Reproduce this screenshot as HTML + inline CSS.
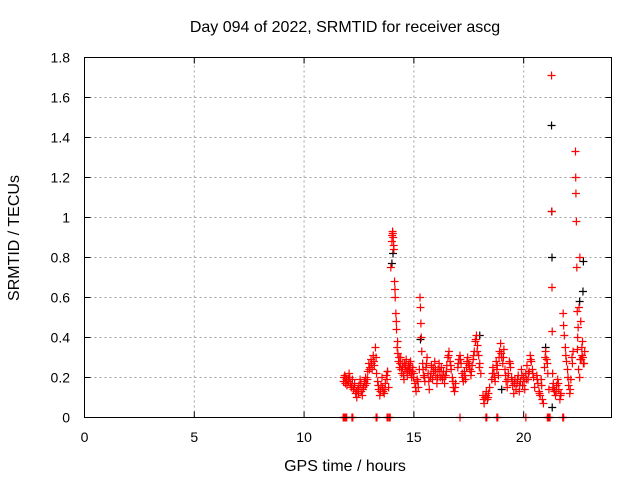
<!DOCTYPE html>
<html><head><meta charset="utf-8"><style>
body{margin:0;background:#fff}
svg{display:block;font-family:"Liberation Sans",sans-serif}
</style></head><body>
<svg id="chart" width="640" height="480" viewBox="0 0 640 480" xmlns="http://www.w3.org/2000/svg">
<text x="345" y="32" font-size="16" text-anchor="middle">Day 094 of 2022, SRMTID for receiver ascg</text>
<text x="345" y="471" font-size="16" text-anchor="middle">GPS time / hours</text>
<text transform="translate(19,238) rotate(-90)" font-size="16" text-anchor="middle">SRMTID / TECUs</text>
<g id="grid"></g>
<g id="ticks"></g>
<g id="black-series"></g>
<g id="red-series"></g>
<rect x="84.5" y="57.5" width="527" height="360" fill="none" stroke="#000" stroke-width="1"/>
</svg>
<script>
const xTicks=[0,5,10,15,20];
const yTicks=[0,0.2,0.4,0.6,0.8,1,1.2,1.4,1.6,1.8];
const yTickLabels=["0","0.2","0.4","0.6","0.8","1","1.2","1.4","1.6","1.8"];
const redT=[11.80,11.85,11.90,11.95,12.00,12.05,12.10,12.15,12.20,12.25,12.30,12.35,12.40,12.45,12.50,12.55,12.60,12.65,12.70,12.75,12.80,12.85,12.90,12.95,13.00,13.05,13.10,13.15,13.20,13.25,13.30,13.35,13.40,13.45,13.50,13.55,13.60,13.65,13.70,13.75,13.80,13.85,13.95,14.00,14.03,14.06,14.09,14.12,14.15,14.18,14.21,14.24,14.27,14.30,14.35,14.40,14.45,14.50,14.55,14.60,14.65,14.70,14.75,14.80,14.85,14.90,14.95,15.00,15.05,15.10,15.15,15.20,15.25,15.28,15.30,15.32,15.34,15.36,15.40,15.45,15.50,15.55,15.60,15.65,15.70,15.75,15.80,15.85,15.90,15.95,16.00,16.05,16.10,16.15,16.20,16.25,16.30,16.35,16.40,16.45,16.50,16.55,16.60,16.65,16.70,16.75,16.80,16.85,16.90,17.00,17.05,17.10,17.15,17.20,17.25,17.30,17.35,17.40,17.45,17.50,17.55,17.60,17.65,17.70,17.75,17.80,17.85,17.90,17.95,18.00,18.05,18.15,18.20,18.25,18.30,18.35,18.40,18.45,18.55,18.60,18.65,18.70,18.75,18.80,18.85,18.90,18.95,19.00,19.05,19.10,19.15,19.20,19.25,19.30,19.35,19.40,19.45,19.50,19.55,19.60,19.65,19.70,19.75,19.80,19.85,19.90,19.95,20.00,20.05,20.10,20.15,20.20,20.25,20.30,20.35,20.40,20.45,20.50,20.60,20.65,20.70,20.75,20.80,20.85,20.90,20.95,21.00,21.05,21.10,21.15,21.27,21.28,21.29,21.30,21.32,21.35,21.40,21.45,21.50,21.55,21.60,21.65,21.70,21.80,21.85,21.90,21.95,22.00,22.05,22.10,22.15,22.20,22.25,22.36,22.37,22.38,22.40,22.42,22.44,22.46,22.48,22.52,22.56,22.60,22.65,22.70,22.75,22.50,22.55,22.62,22.68];
const redV=[0.18,0.21,0.20,0.16,0.19,0.22,0.17,0.15,0.19,0.14,0.17,0.12,0.10,0.14,0.16,0.19,0.13,0.11,0.15,0.18,0.20,0.17,0.23,0.27,0.25,0.29,0.24,0.31,0.26,0.35,0.22,0.18,0.14,0.11,0.16,0.20,0.13,0.12,0.17,0.21,0.23,0.15,0.75,0.88,0.93,0.90,0.84,0.68,0.60,0.52,0.44,0.35,0.32,0.28,0.25,0.30,0.22,0.27,0.19,0.24,0.29,0.21,0.26,0.23,0.28,0.20,0.25,0.22,0.17,0.13,0.19,0.15,0.24,0.60,0.55,0.47,0.40,0.33,0.27,0.21,0.18,0.25,0.30,0.22,0.14,0.20,0.26,0.19,0.23,0.28,0.21,0.17,0.24,0.27,0.20,0.25,0.19,0.23,0.17,0.21,0.26,0.30,0.33,0.28,0.24,0.20,0.15,0.13,0.17,0.25,0.29,0.31,0.27,0.22,0.18,0.23,0.19,0.25,0.30,0.27,0.24,0.21,0.26,0.29,0.33,0.38,0.41,0.36,0.31,0.27,0.22,0.11,0.07,0.10,0.13,0.09,0.12,0.15,0.19,0.25,0.22,0.18,0.28,0.26,0.21,0.33,0.37,0.30,0.27,0.34,0.24,0.18,0.15,0.22,0.28,0.25,0.20,0.16,0.12,0.19,0.14,0.17,0.21,0.13,0.18,0.24,0.16,0.20,0.14,0.22,0.26,0.19,0.23,0.31,0.28,0.24,0.20,0.15,0.21,0.17,0.13,0.11,0.19,0.09,0.07,0.25,0.33,0.29,0.22,0.14,1.71,1.03,0.65,0.43,0.22,0.17,0.13,0.11,0.16,0.19,0.14,0.09,0.12,0.52,0.41,0.35,0.28,0.24,0.16,0.12,0.19,0.30,0.33,1.33,1.20,1.12,0.98,0.75,0.53,0.40,0.45,0.55,0.80,0.48,0.35,0.30,0.27,0.24,0.20,0.29,0.38];
const red2T=[11.82,11.88,11.93,12.02,12.08,12.18,12.28,12.38,12.48,12.58,12.68,12.78,12.88,12.98,13.08,13.18,13.28,13.38,13.48,13.58,13.68,13.78,14.01,14.04,14.08,14.14,14.20,14.26,14.33,14.38,14.43,14.48,14.53,14.58,14.63,14.68,14.73,14.78,14.83,14.88,14.93,14.98,15.08,15.18,15.42,15.48,15.58,15.68,15.78,15.88,15.98,16.08,16.18,16.28,16.38,16.48,16.58,16.68,16.78,16.88,17.02,17.12,17.22,17.32,17.42,17.52,17.62,17.72,17.82,17.88,17.98,18.18,18.28,18.38,18.58,18.68,18.78,18.88,18.98,19.08,19.18,19.28,19.38,19.48,19.58,19.72,19.82,19.92,20.02,20.12,20.22,20.32,20.42,20.62,20.72,20.82,20.98,21.08,21.33,21.38,21.48,21.58,21.68,21.82,21.92,22.02,22.12,22.22,22.45,22.58,22.66,22.72,22.78];
const red2V=[0.20,0.17,0.19,0.18,0.20,0.16,0.15,0.13,0.12,0.17,0.14,0.16,0.19,0.24,0.27,0.28,0.30,0.16,0.13,0.15,0.14,0.19,0.91,0.92,0.86,0.64,0.48,0.38,0.30,0.27,0.24,0.25,0.21,0.27,0.26,0.23,0.24,0.27,0.25,0.22,0.23,0.20,0.15,0.18,0.24,0.20,0.27,0.18,0.22,0.25,0.24,0.20,0.23,0.21,0.20,0.23,0.31,0.26,0.18,0.15,0.27,0.29,0.20,0.21,0.28,0.26,0.23,0.31,0.39,0.33,0.25,0.09,0.11,0.10,0.22,0.20,0.24,0.30,0.32,0.30,0.21,0.19,0.27,0.18,0.17,0.19,0.16,0.21,0.18,0.19,0.22,0.29,0.22,0.19,0.12,0.16,0.30,0.27,0.15,0.14,0.13,0.17,0.11,0.46,0.31,0.20,0.14,0.27,0.34,0.29,0.31,0.27,0.33];
const zeroT=[11.78,11.82,11.86,11.90,11.94,12.18,12.22,13.28,13.32,13.78,13.82,13.88,13.92,17.10,18.28,18.32,18.78,18.82,20.10,21.08,21.12,21.16,21.20,21.78,21.82];
const zeroV=[0,0,0,0,0,0,0,0,0,0,0,0,0,0,0,0,0,0,0,0,0,0,0,0,0];
const blackT=[13.80,14.00,14.05,15.30,18.00,21.00,21.27,21.28,21.29,22.55,22.70,22.72,21.30,19.00];
const blackV=[0.23,0.77,0.82,0.39,0.41,0.35,1.46,1.03,0.80,0.58,0.63,0.78,0.05,0.14];

const X0=84.5,X1=611.5,Y0=417.5,Y1=57.5;
const xScale=t=>X0+t/24*(X1-X0);
const yScale=v=>Y0-v/1.8*(Y0-Y1);
const NS="http://www.w3.org/2000/svg";
function mk(tag,attrs,parent){const e=document.createElementNS(NS,tag);for(const k in attrs)e.setAttribute(k,attrs[k]);parent.appendChild(e);return e;}
const grid=document.getElementById('grid'),ticks=document.getElementById('ticks');
yTicks.forEach((v,i)=>{const y=yScale(v);
 if(i>0&&i<yTicks.length-1){const g=mk('line',{x1:X0,x2:X1,y1:y,y2:y,stroke:'#a0a0a0','stroke-dasharray':'2,3'},grid);
 
 }
 mk('line',{x1:X0,x2:X0+6,y1:y,y2:y,stroke:'#000'},ticks);
 mk('line',{x1:X1,x2:X1-6,y1:y,y2:y,stroke:'#000'},ticks);
 const t=mk('text',{x:70,y:y+5,'font-size':14,'text-anchor':'end'},ticks);t.textContent=yTickLabels[i];
 
 
});
xTicks.forEach((v,i)=>{const x=xScale(v);
 if(i>0){const g=mk('line',{x1:x,x2:x,y1:Y0,y2:Y1,stroke:'#a0a0a0','stroke-dasharray':'2,3'},grid);
 
 }
 mk('line',{x1:x,x2:x,y1:Y0,y2:Y0-6,stroke:'#000'},ticks);
 mk('line',{x1:x,x2:x,y1:Y1,y2:Y1+6,stroke:'#000'},ticks);
 const t=mk('text',{x:x,y:442,'font-size':14,'text-anchor':'middle'},ticks);t.textContent=String(v);
 
 
});
function plus(parent,t,v,col,name){const x=xScale(t),y=yScale(v);
 const p=mk('path',{d:`M${x-4},${y}H${x+4}M${x},${y-4}V${y+4}`,stroke:col,'stroke-width':1.2,fill:'none'},parent);
 
 }
const bs=document.getElementById('black-series'),rs=document.getElementById('red-series');
blackT.forEach((t,i)=>plus(bs,t,blackV[i],'#000','black-point'));
redT.forEach((t,i)=>plus(rs,t,redV[i],'#ff0000','red-point'));
red2T.forEach((t,i)=>plus(rs,t,red2V[i],'#ff0000','red-point'));
zeroT.forEach((t,i)=>plus(rs,t,zeroV[i],'#ff0000','red-zero-point'));
</script>
</body></html>
